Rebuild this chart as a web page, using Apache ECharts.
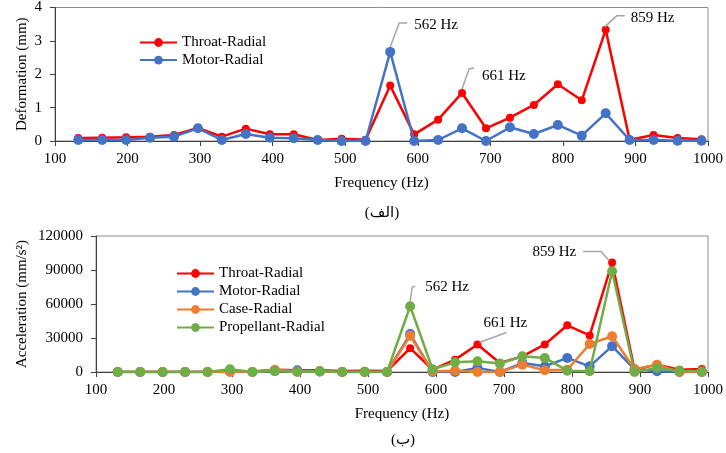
<!DOCTYPE html>
<html>
<head>
<meta charset="utf-8">
<script src="https://cdn.jsdelivr.net/npm/echarts@6/dist/echarts.min.js"></script>
<style>
html,body{margin:0;padding:0;background:#fff;}
#c{width:726px;height:453px;}
</style>
</head>
<body>
<div id="c"></div>
<script>
// ---- data ----
const freq = [132,165,198,231,264,297,330,363,396,429,462,495,528,562,595,628,661,694,727,760,793,826,859,892,925,958,991];

const deformThroat = [0.09,0.10,0.11,0.13,0.18,0.39,0.13,0.37,0.20,0.20,0.03,0.07,0.04,1.66,0.20,0.64,1.44,0.38,0.70,1.08,1.70,1.22,3.33,0.04,0.18,0.09,0.05];
const deformMotor  = [0.03,0.03,0.03,0.10,0.13,0.38,0.03,0.21,0.10,0.08,0.03,0.00,0.00,2.67,0.00,0.03,0.38,0.00,0.41,0.21,0.48,0.16,0.83,0.03,0.03,0.01,0.01];

const accThroat = [0,0,0,0,300,1000,500,2000,1500,1500,800,1000,800,21000,2000,10900,24300,7900,13800,24300,41200,32300,96600,2000,6500,2000,2600];
const accMotor  = [0,0,0,0,0,500,0,1000,1500,500,0,0,0,33500,0,0,3500,0,7900,5000,12400,5000,22800,2400,600,0,0];
const accCase   = [0,0,0,0,0,0,0,2000,500,500,0,0,0,32000,600,1200,0,0,6500,1500,2000,24700,31500,2400,6500,0,0];
const accProp   = [0,0,0,0,0,2500,0,800,0,700,0,0,0,58000,2400,8500,9400,7400,13800,12400,1200,600,88900,0,3500,1200,600];

const xTicks = [100,200,300,400,500,600,700,800,900,1000];
const yTicksTop = [0,1,2,3,4];
const yTicksBottom = [0,30000,60000,90000,120000];

const peaksTop = [{f:562, v:2.67, label:'562 Hz'},{f:661, v:1.44, label:'661 Hz'},{f:859, v:3.33, label:'859 Hz'}];
const peaksBottom = [{f:562, v:58000, label:'562 Hz'},{f:661, v:24300, label:'661 Hz'},{f:859, v:96600, label:'859 Hz'}];

// ---- styles ----
const FONT = 'Liberation Serif';
const C_RED = '#FF0000', C_BLUE = '#4472C4', C_ORANGE = '#ED7D31', C_GREEN = '#70AD47';
const pair = (arr) => freq.map((f,i)=>[f, arr[i]]);
const plain = (v) => String(v);

function xAxis(gi){
  return {
    type:'value', gridIndex:gi, min:xTicks[0], max:xTicks[xTicks.length-1], interval:100,
    name:'Frequency (Hz)', nameLocation:'middle', nameGap:35, nameMoveOverlap:false,
    nameTextStyle:{fontFamily:FONT, fontSize:15, color:'#000'},
    axisLine:{show:true, onZero:false, lineStyle:{color:'#404040', width:1}},
    axisTick:{show:true, length:5, lineStyle:{color:'#404040'}},
    axisLabel:{fontFamily:FONT, fontSize:15, color:'#000', margin:11, formatter:plain},
    splitLine:{show:false}
  };
}
function yAxis(gi, ticks, name, gap){
  return {
    type:'value', gridIndex:gi, min:ticks[0], max:ticks[ticks.length-1], interval:ticks[1]-ticks[0],
    name:name, nameLocation:'middle', nameGap:gap, nameMoveOverlap:false,
    nameTextStyle:{fontFamily:FONT, fontSize:15, color:'#000'},
    axisLine:{show:true, lineStyle:{color:'#404040', width:1}},
    axisTick:{show:true, length:5, lineStyle:{color:'#404040'}},
    axisLabel:{fontFamily:FONT, fontSize:15, color:'#000', margin:13, formatter:plain},
    splitLine:{show:false}
  };
}
function line(name, data, color, gi, size, z){
  return {
    name:name, type:'line', xAxisIndex:gi, yAxisIndex:gi, data:data,
    symbol:'circle', symbolSize:size, z:z,
    itemStyle:{color:color}, lineStyle:{color:color, width:2.5},
    emphasis:{disabled:true}, animation:false
  };
}

const chart = echarts.init(document.getElementById('c'), null, {renderer:'canvas'});
const legendText = {fontFamily:FONT, fontSize:15, color:'#000'};
chart.setOption({
  animation:false,
  grid:[
    {left:55, right:16, top:7, height:134, show:true, borderColor:'#8c8c8c', borderWidth:1, containLabel:false},
    {left:96, right:16, top:236, height:136, show:true, borderColor:'#8c8c8c', borderWidth:1, containLabel:false}
  ],
  xAxis:[xAxis(0), xAxis(1)],
  yAxis:[yAxis(0, yTicksTop, 'Deformation (mm)', 25), yAxis(1, yTicksBottom, 'Acceleration (mm/s²)', 66)],
  legend:[
    {orient:'vertical', left:139, top:35, padding:0, itemWidth:37, itemHeight:11, itemGap:2.6, textStyle:legendText,
     data:['Throat-Radial','Motor-Radial'], selectedMode:false},
    {orient:'vertical', left:176, top:266, padding:0, itemWidth:37, itemHeight:11, itemGap:3, textStyle:legendText,
     data:['Throat-Radial','Motor-Radial','Case-Radial','Propellant-Radial'], selectedMode:false}
  ],
  series:[
    line('Throat-Radial', pair(deformThroat), C_RED, 0, 8, 2),
    line('Motor-Radial', pair(deformMotor), C_BLUE, 0, 10, 3),
    line('Throat-Radial', pair(accThroat), C_RED, 1, 8, 2),
    line('Motor-Radial', pair(accMotor), C_BLUE, 1, 10, 3),
    line('Case-Radial', pair(accCase), C_ORANGE, 1, 10, 4),
    line('Propellant-Radial', pair(accProp), C_GREEN, 1, 10, 5)
  ]
});

// ---- annotations (leader lines positioned from data through the axes) ----
const LEAD = {stroke:'#A5A5A5', lineWidth:1.5, fill:null};
const txtStyle = (x,y,text,align) => ({type:'text', z:20, style:{x:x, y:y, text:text, fill:'#000', font:'15px "Liberation Serif"', textAlign:align||'left', textVerticalAlign:'middle'}});
const poly = (pts) => ({type:'polyline', z:20, shape:{points:pts}, style:LEAD});
const g = [];
const topOff = [
  {pts:[[0,-5],[9,-29],[17,-29]], t:[24,-27], a:'left'},
  {pts:[[0,-4],[7,-24],[12,-25]], t:[20,-17], a:'left'},
  {pts:[[-1,-3],[11,-14],[19,-14]], t:[25,-12], a:'left'}
];
const botOff = [
  {pts:[[0,-5],[2,-19],[5,-20]], t:[15,-19], a:'left'},
  {pts:[[2,-2],[29,-12]], t:[6,-21], a:'left'},
  {pts:[[-3,-2],[-11,-11],[-29,-11]], t:[-36,-10], a:'right'}
];
peaksTop.forEach((p,i)=>{
  const c = chart.convertToPixel({gridIndex:0}, [p.f, p.v]);
  const o = topOff[i];
  g.push(poly(o.pts.map(d=>[c[0]+d[0], c[1]+d[1]])));
  g.push(txtStyle(c[0]+o.t[0], c[1]+o.t[1], p.label, o.a));
});
peaksBottom.forEach((p,i)=>{
  const c = chart.convertToPixel({gridIndex:1}, [p.f, p.v]);
  const o = botOff[i];
  g.push(poly(o.pts.map(d=>[c[0]+d[0], c[1]+d[1]])));
  g.push(txtStyle(c[0]+o.t[0], c[1]+o.t[1], p.label, o.a));
});
g.push({type:'text', style:{x:382, y:213, text:'(الف)', fill:'#000', font:'15px "Liberation Serif", "DejaVu Sans", sans-serif', textAlign:'center', textVerticalAlign:'middle'}});
g.push({type:'text', style:{x:403, y:440, text:'(ب)', fill:'#000', font:'15px "Liberation Serif", "DejaVu Sans", sans-serif', textAlign:'center', textVerticalAlign:'middle'}});
chart.setOption({graphic:g});
</script>
</body>
</html>
